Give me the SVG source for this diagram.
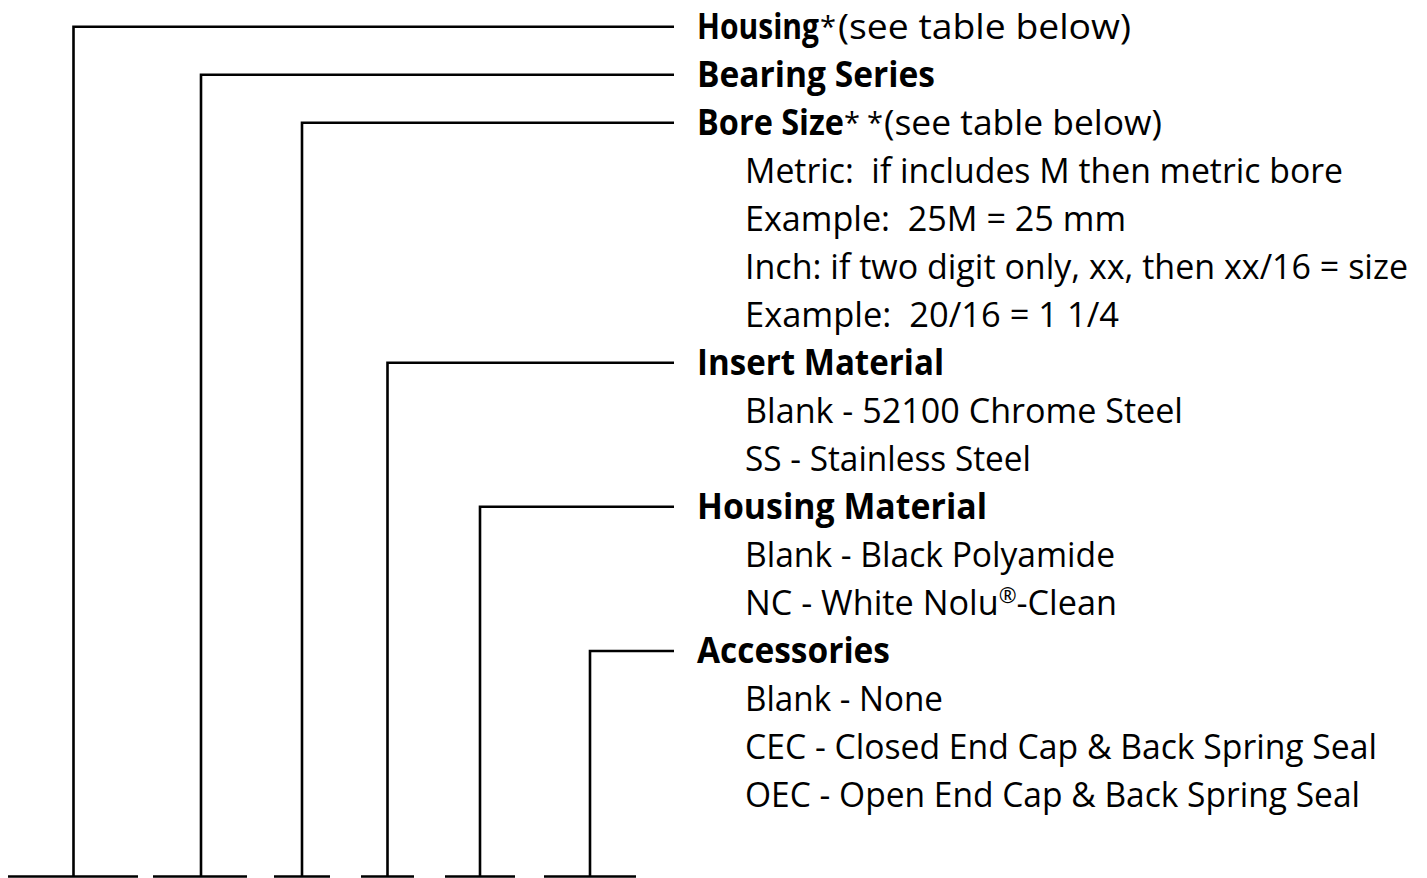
<svg xmlns="http://www.w3.org/2000/svg" width="1427" height="878" viewBox="0 0 1427 878">
<style>
.ln{fill:none;stroke:#000;stroke-width:2.6;stroke-linecap:butt;stroke-linejoin:miter}
.b{font-family:"Open Sans","Noto Sans","Liberation Sans",sans-serif;font-weight:700;font-size:35px;fill:#000}
.r{font-family:"Open Sans","Noto Sans","Liberation Sans",sans-serif;font-weight:400;font-size:35px;fill:#000}
.s{font-family:"Open Sans","Noto Sans","Liberation Sans",sans-serif;font-weight:400;font-size:29px;fill:#000;text-anchor:middle}
</style>
<rect width="1427" height="878" fill="#fff"/>
<g id="connectors">
<path class="ln" d="M674 26.7H73.5V876"/>
<path class="ln" d="M674 74.7H201V876"/>
<path class="ln" d="M674 122.7H302V876"/>
<path class="ln" d="M674 362.7H387.5V876"/>
<path class="ln" d="M674 506.7H480V876"/>
<path class="ln" d="M674 651H590V876"/>
<path class="ln" d="M8 876.5H138M153 876.5H247M274 876.5H330M361 876.5H414M445 876.5H515M544 876.5H636"/>
</g>
<g id="housing">
<text class="b" x="697" y="39" textLength="122" lengthAdjust="spacingAndGlyphs">Housing</text>
<text class="s" x="828" y="37">*</text>
<text class="r" x="838" y="39" textLength="293" lengthAdjust="spacingAndGlyphs">(see table below)</text>
</g>
<g id="bearing-series">
<text class="b" x="697" y="87" textLength="238" lengthAdjust="spacingAndGlyphs">Bearing Series</text>
</g>
<g id="bore-size">
<text class="b" x="697" y="135" textLength="147" lengthAdjust="spacingAndGlyphs">Bore Size</text>
<text class="s" x="852" y="133">*</text>
<text class="s" x="875" y="133">*</text>
<text class="r" x="884" y="135" textLength="278" lengthAdjust="spacingAndGlyphs">(see table below)</text>
<text class="r" x="745" y="183" textLength="598" lengthAdjust="spacingAndGlyphs" xml:space="preserve">Metric:  if includes M then metric bore</text>
<text class="r" x="745" y="231" textLength="381" lengthAdjust="spacingAndGlyphs" xml:space="preserve">Example:  25M = 25 mm</text>
<text class="r" x="745" y="279" textLength="663" lengthAdjust="spacingAndGlyphs">Inch: if two digit only, xx, then xx/16 = size</text>
<text class="r" x="745" y="327" textLength="374" lengthAdjust="spacingAndGlyphs" xml:space="preserve">Example:  20/16 = 1 1/4</text>
</g>
<g id="insert-material">
<text class="b" x="697" y="375" textLength="247" lengthAdjust="spacingAndGlyphs">Insert Material</text>
<text class="r" x="745" y="423" textLength="438" lengthAdjust="spacingAndGlyphs">Blank - 52100 Chrome Steel</text>
<text class="r" x="745" y="471" textLength="286" lengthAdjust="spacingAndGlyphs">SS - Stainless Steel</text>
</g>
<g id="housing-material">
<text class="b" x="697" y="519" textLength="290" lengthAdjust="spacingAndGlyphs">Housing Material</text>
<text class="r" x="745" y="567" textLength="370" lengthAdjust="spacingAndGlyphs">Blank - Black Polyamide</text>
<text class="r" x="745" y="615" textLength="372" lengthAdjust="spacingAndGlyphs">NC - White Nolu<tspan font-size="22" dy="-12">®</tspan><tspan dy="12">-Clean</tspan></text>
</g>
<g id="accessories">
<text class="b" x="697" y="663" textLength="193" lengthAdjust="spacingAndGlyphs">Accessories</text>
<text class="r" x="745" y="711" textLength="198" lengthAdjust="spacingAndGlyphs">Blank - None</text>
<text class="r" x="745" y="759" textLength="632" lengthAdjust="spacingAndGlyphs">CEC - Closed End Cap &amp; Back Spring Seal</text>
<text class="r" x="745" y="807" textLength="615" lengthAdjust="spacingAndGlyphs">OEC - Open End Cap &amp; Back Spring Seal</text>
</g>
</svg>
